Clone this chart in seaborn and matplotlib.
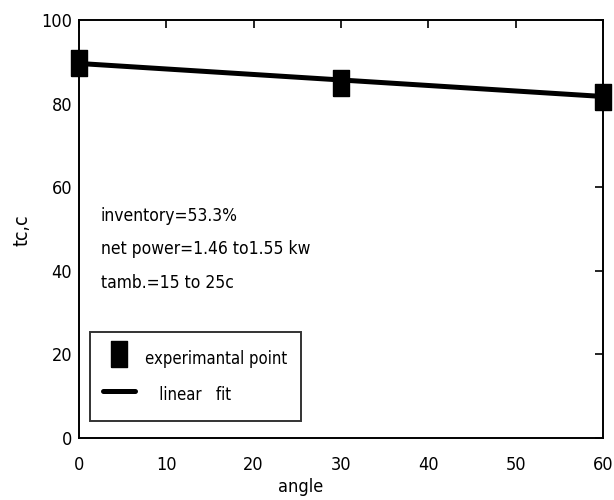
import matplotlib
matplotlib.use("Agg")
import matplotlib.pyplot as plt
import seaborn as sns
import pandas as pd

sns.set_style("white")
plt.rcParams["font.family"] = ["DejaVu Sans"]
plt.rcParams["font.stretch"] = "condensed"
plt.rcParams["text.color"] = "black"

# data
angle_exp = [0, 30, 60]
tc_exp = [89.7, 84.9, 81.6]
angle_fit = [0, 60]
tc_fit = [89.6, 81.7]
xticks = [0, 10, 20, 30, 40, 50, 60]
yticks = [0, 20, 40, 60, 80, 100]
notes = ["inventory=53.3%", "net power=1.46 to1.55 kw", "tamb.=15 to 25c"]

fig = plt.figure(figsize=(6.14, 5.0), dpi=100)
ax = fig.add_axes([79/614, 62/500, (603-79)/614, (438-20)/500])

rect = [(-0.5, -0.86), (0.5, -0.86), (0.5, 0.86), (-0.5, 0.86), (-0.5, -0.86)]
df_fit = pd.DataFrame({"angle": angle_fit, "tc": tc_fit})
df_exp = pd.DataFrame({"angle": angle_exp, "tc": tc_exp})
sns.lineplot(data=df_fit, x="angle", y="tc", ax=ax, color="black", lw=3.6,
             label="   linear   fit", zorder=2)
ax.plot(df_exp["angle"], df_exp["tc"], ls="none", marker=rect, ms=19,
        color="black", label="experimantal point", zorder=3, clip_on=False)

ax.set_xlim(0, 60)
ax.set_ylim(0, 100)
ax.set_xticks(xticks)
ax.set_yticks(yticks)
ax.tick_params(direction="in", length=6, width=1.2, top=True, right=True,
               labelsize=13, colors="black")
ax.tick_params(axis="x", pad=13)
ax.tick_params(axis="y", pad=5)
for s in ax.spines.values():
    s.set_color("black")
    s.set_linewidth(1.4)
ax.set_xlabel("")
ax.set_ylabel("")
fig.text(22/614, 1 - 230/500, "tc,c", rotation=90, ha="center", va="center", fontsize=14)
fig.text(301/614, 1 - 487/500, "angle", ha="center", va="center", fontsize=13)

note_y = [52.0, 44.1, 35.9]
for t, yv in zip(notes, note_y):
    ax.text(2.5, yv, t, fontsize=12.5, ha="left", va="baseline")

h, l = ax.get_legend_handles_labels()
leg = ax.legend([h[1], h[0]], [l[1], l[0]], loc="lower left",
                bbox_to_anchor=(11/524, 17/418), frameon=True, fontsize=12,
                fancybox=False, edgecolor="black", handlelength=1.9,
                handleheight=2.0, borderpad=0.8, labelspacing=0.65,
                handletextpad=0.6, borderaxespad=0)
leg.get_frame().set_linewidth(1.4)

fig.savefig("out.png", dpi=100)
